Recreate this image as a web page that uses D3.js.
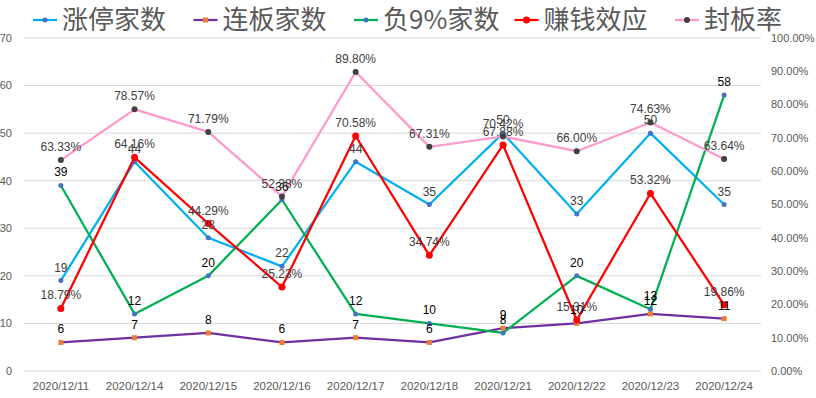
<!DOCTYPE html>
<meta charset="utf-8">
<style>
  body { margin: 0; background: #fff; }
  text { font-family: "Liberation Sans", Arial, sans-serif; }
  .tick-label { font-size: 11px; fill: #595959; }
  .xlab { font-size: 11.5px; }
  .val { font-size: 12px; text-anchor: middle; }
  .legend text { font-family: "Noto Sans CJK SC", sans-serif; font-size: 26px; fill: #595959; }
</style>
<svg width="816" height="398"></svg>
<script src="https://cdn.jsdelivr.net/npm/d3@7"></script>
<script>
  // data
  var dates = ["2020/12/11", "2020/12/14", "2020/12/15", "2020/12/16", "2020/12/17",
               "2020/12/18", "2020/12/21", "2020/12/22", "2020/12/23", "2020/12/24"];
  var limitUp   = [19, 44, 28, 22, 44, 35, 50, 33, 50, 35];        // 涨停家数
  var streak    = [6, 7, 8, 6, 7, 6, 9, 10, 12, 11];               // 连板家数
  var down9     = [39, 12, 20, 36, 12, 10, 8, 20, 13, 58];         // 负9%家数
  var profitEff = [0.1879, 0.6416, 0.4429, 0.2523, 0.7058, 0.3474, 0.6788, 0.1531, 0.5332, 0.1986]; // 赚钱效应
  var sealRate  = [0.6333, 0.7857, 0.7179, 0.5238, 0.8980, 0.6731, 0.7042, 0.6600, 0.7463, 0.6364];  // 封板率
  var leftTicks = [0, 10, 20, 30, 40, 50, 60, 70];
  var rightTicks = [0, 0.1, 0.2, 0.3, 0.4, 0.5, 0.6, 0.7, 0.8, 0.9, 1.0];

  var series = [
    { name: "涨停家数", values: limitUp, axis: "left", line: "#00B0F0", marker: "circle", mfill: "#4472C4", r: 2.5, label: "#404040", fmt: d3.format("d") },
    { name: "连板家数", values: streak, axis: "left", line: "#7030A0", marker: "square", mfill: "#ED7D31", r: 2.5, label: "#000", fmt: d3.format("d") },
    { name: "负9%家数", values: down9, axis: "left", line: "#00B050", marker: "circle", mfill: "#4472C4", r: 2.5, label: "#000", fmt: d3.format("d") },
    { name: "赚钱效应", values: profitEff, axis: "right", line: "#FF0000", marker: "circle", mfill: "#FF0000", r: 3.5, label: "#404040", fmt: d3.format(".2%") },
    { name: "封板率", values: sealRate, axis: "right", line: "#FF99CC", marker: "circle", mfill: "#404040", r: 3, label: "#404040", fmt: d3.format(".2%") }
  ];

  var svg = d3.select("svg"),
      plotL = 24, plotR = 761, plotT = 38, plotB = 371;

  var x = d3.scalePoint().domain(dates).range([plotL, plotR]).padding(0.5);
  var yL = d3.scaleLinear().domain([0, 70]).range([plotB, plotT]);
  var yR = d3.scaleLinear().domain([0, 1]).range([plotB, plotT]);

  // gridlines
  svg.append("g").selectAll("line")
    .data(leftTicks)
    .enter().append("line")
    .attr("x1", plotL).attr("x2", plotR)
    .attr("y1", function (d) { return yL(d); })
    .attr("y2", function (d) { return yL(d); })
    .attr("stroke", "#D9D9D9").attr("stroke-width", 1);

  // left axis labels
  svg.append("g").selectAll("text")
    .data(leftTicks)
    .enter().append("text")
    .attr("class", "tick-label")
    .attr("x", 12).attr("y", function (d) { return yL(d); })
    .attr("dy", "0.35em").attr("text-anchor", "end")
    .text(function (d) { return d; });

  // right axis labels
  svg.append("g").selectAll("text")
    .data(rightTicks)
    .enter().append("text")
    .attr("class", "tick-label")
    .attr("x", 771).attr("y", function (d) { return yR(d); })
    .attr("dy", "0.35em")
    .text(function (d) { return d3.format(".2%")(d); });

  // x labels
  svg.append("g").selectAll("text")
    .data(dates)
    .enter().append("text")
    .attr("class", "tick-label xlab")
    .attr("x", function (d) { return x(d); }).attr("y", 386)
    .attr("dy", "0.35em").attr("text-anchor", "middle")
    .text(function (d) { return d; });

  function yOf(s) { return s.axis === "left" ? yL : yR; }

  function drawMarker(sel, s) {
    if (s.marker === "square") {
      sel.append("rect")
        .attr("x", -s.r).attr("y", -s.r)
        .attr("width", s.r * 2).attr("height", s.r * 2)
        .attr("fill", s.mfill);
    } else {
      sel.append("circle").attr("r", s.r).attr("fill", s.mfill);
    }
  }

  // lines + markers
  series.forEach(function (s) {
    var y = yOf(s);
    var line = d3.line()
      .x(function (d, i) { return x(dates[i]); })
      .y(function (d) { return y(d); });
    var g = svg.append("g");
    g.append("path")
      .datum(s.values)
      .attr("d", line)
      .attr("fill", "none")
      .attr("stroke", s.line)
      .attr("stroke-width", 2.25)
      .attr("stroke-linejoin", "round");
    g.selectAll("g.m")
      .data(s.values)
      .enter().append("g")
      .attr("class", "m")
      .attr("transform", function (d, i) { return "translate(" + x(dates[i]) + "," + y(d) + ")"; })
      .each(function () { drawMarker(d3.select(this), s); });
  });

  // data labels
  series.forEach(function (s) {
    var y = yOf(s);
    svg.append("g").selectAll("text")
      .data(s.values)
      .enter().append("text")
      .attr("class", "val")
      .attr("fill", s.label)
      .attr("x", function (d, i) { return x(dates[i]); })
      .attr("y", function (d) { return y(d) - 9; })
      .text(function (d) { return s.fmt(d); });
  });

  // legend - items on an even step like the excel one
  var legend = svg.append("g").attr("class", "legend");
  series.forEach(function (s, i) {
    var item = legend.append("g").attr("transform", "translate(" + (33 + i * 160.5) + ",20)");
    item.append("line")
      .attr("x1", 0).attr("x2", 24)
      .attr("stroke", s.line).attr("stroke-width", 2.25);
    var m = item.append("g").attr("transform", "translate(12,0)");
    drawMarker(m, s);
    item.append("text")
      .attr("x", 29).attr("y", 0).attr("dy", "0.36em")
      .text(s.name);
  });
</script>
